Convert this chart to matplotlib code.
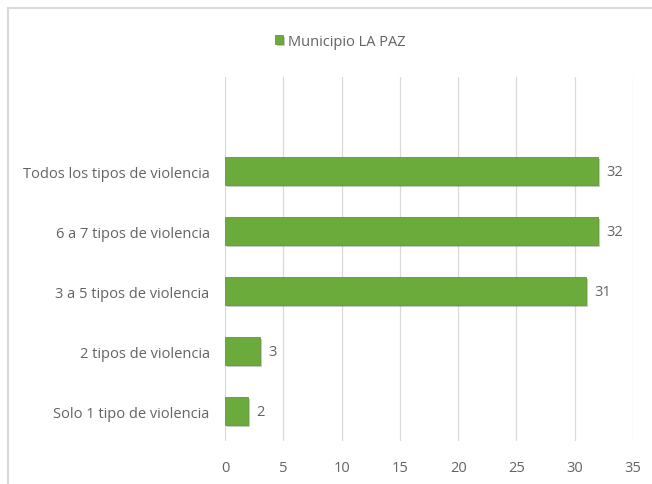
import matplotlib.pyplot as plt
from matplotlib.patches import Rectangle
import matplotlib.patheffects as pe

plt.rcParams['font.family'] = ['Open Sans', 'DejaVu Sans']

categorias = ['Solo 1 tipo de violencia', '2 tipos de violencia', '3 a 5 tipos de violencia',
              '6 a 7 tipos de violencia', 'Todos los tipos de violencia']
valores = [2, 3, 31, 32, 32]
serie = 'Municipio LA PAZ'
xticks = [0, 5, 10, 15, 20, 25, 30, 35]

verde = '#6aab3c'
gris_txt = '#636363'
gris_lin = '#d9d9d9'

fig = plt.figure(figsize=(6.52, 4.85), dpi=100)
fig.patch.set_facecolor('white')
# marco del area del grafico
fig.patches.append(Rectangle((8/652, -0.1), 1.2, 1 - 9/485 + 0.1, transform=fig.transFigure,
                             fill=False, edgecolor=gris_lin, linewidth=1.5))

ax = fig.add_axes([225/652, 1 - 442/485, (633 - 225)/652, (442 - 78)/485])
pos = range(len(categorias))
barras = ax.barh(pos, valores, height=0.47, color=verde, edgecolor='#5e9a34', linewidth=0.6,
                 label=serie, zorder=3)
for b in barras:
    b.set_path_effects([pe.SimplePatchShadow(offset=(1.5, -1.5), alpha=0.25), pe.Normal()])

for y, v in zip(pos, valores):
    ax.annotate(str(v), (v, y), xytext=(6, 0), textcoords='offset points', va='center', ha='left',
                fontsize=10.5, color=gris_txt)

ax.set_xlim(0, 35)
ax.set_ylim(-0.5, 5.567)
ax.set_xticks(xticks)
ax.set_yticks(list(pos))
ax.set_yticklabels(categorias)
ax.tick_params(axis='both', length=0, labelsize=10.5, labelcolor=gris_txt)
ax.tick_params(axis='x', pad=14)
ax.tick_params(axis='y', pad=11)
ax.xaxis.grid(True, color=gris_lin, linewidth=0.9, zorder=0)
for s in ax.spines.values():
    s.set_visible(False)

fig.legend(handles=[barras], labels=[serie], loc='center', bbox_to_anchor=(340/652, 1 - 42/485),
           frameon=False, fontsize=10.5, labelcolor=gris_txt, handlelength=0.6, handleheight=0.6,
           handletextpad=0.3)

fig.savefig('out.png', dpi=100)
